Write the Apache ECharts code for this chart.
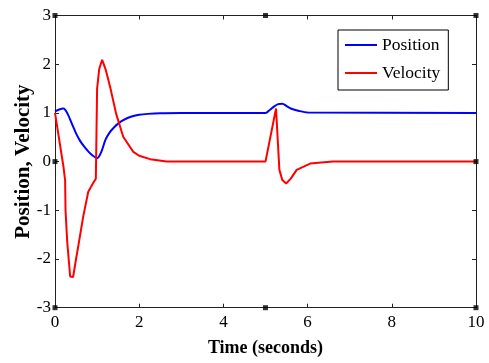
<!DOCTYPE html>
<html>
<head>
<meta charset="utf-8">
<script src="https://cdn.jsdelivr.net/npm/echarts@6/dist/echarts.min.js"></script>
<style>
  html, body { margin: 0; padding: 0; background: #fff; }
  #chart { width: 489px; height: 363px; }
</style>
</head>
<body>
<div id="chart"></div>
<script>
// position response
const posTime = [0, 0.1, 0.2, 0.3, 0.4, 0.5, 0.6, 0.7, 0.8, 0.9, 1.0, 1.1, 1.2, 1.3, 1.4, 1.5, 1.6, 1.8, 2.0, 2.2, 2.5, 3.0, 5.0, 5.1, 5.2, 5.3, 5.4, 5.5, 5.6, 5.8, 6.0, 10]
const posValue = [1.03, 1.07, 1.09, 0.98, 0.78, 0.58, 0.42, 0.3, 0.2, 0.12, 0.07, 0.2, 0.45, 0.6, 0.7, 0.78, 0.84, 0.92, 0.96, 0.98, 0.995, 1.0, 1.0, 1.06, 1.13, 1.18, 1.19, 1.14, 1.09, 1.04, 1.01, 1.0]

// velocity response
const velTime = [0, 0.1, 0.2, 0.24, 0.25, 0.29, 0.36, 0.43, 0.5, 0.55, 0.67, 0.79, 0.9, 0.97, 1.0, 1.05, 1.12, 1.2, 1.31, 1.45, 1.62, 1.86, 2.0, 2.26, 2.65, 3.0, 5.0, 5.25, 5.33, 5.4, 5.49, 5.6, 5.74, 6.06, 6.6, 10]
const velValue = [1.0, 0.45, -0.1, -0.38, -1.0, -1.64, -2.36, -2.37, -2.0, -1.75, -1.13, -0.62, -0.45, -0.35, 1.5, 1.9, 2.09, 1.9, 1.53, 0.99, 0.51, 0.2, 0.12, 0.05, 0.0, 0.0, 0.0, 1.09, -0.17, -0.38, -0.45, -0.35, -0.17, -0.04, 0.0, 0.0]

// little black handles on the figure frame
const handleX = [0, 5, 10, 0, 10, 0, 5, 10]
const handleY = [3, 3, 3, 0, 0, -3, -3, -3]

const font = '"Liberation Serif", "Times New Roman", serif'
const axisColor = '#222'

function pairs(xs, ys) {
  return xs.map((x, i) => [x, ys[i]])
}

const chart = echarts.init(document.getElementById('chart'))

const xBase = {
  type: 'value', min: 0, max: 10, interval: 2,
  axisLine: { show: true, onZero: false, lineStyle: { color: axisColor, width: 1 } },
  axisTick: { show: true, inside: true, length: 4, lineStyle: { color: axisColor } },
  splitLine: { show: false }
}
const yBase = {
  type: 'value', min: -3, max: 3, interval: 1,
  axisLine: { show: true, onZero: false, lineStyle: { color: axisColor, width: 1 } },
  axisTick: { show: true, inside: true, length: 4, lineStyle: { color: axisColor } },
  splitLine: { show: false }
}

chart.setOption({
  backgroundColor: '#fff',
  animation: false,
  grid: { left: 55, right: 13, top: 15.5, bottom: 55.3, outerBoundsMode: 'none' },
  legend: {
    data: [
      { name: 'Position', icon: 'rect' },
      { name: 'Velocity', icon: 'rect' }
    ],
    orient: 'vertical',
    left: 338, top: 30,
    itemWidth: 32, itemHeight: 2, itemGap: 10,
    padding: [6, 8, 8, 7],
    borderColor: '#000', borderWidth: 1,
    textStyle: { fontFamily: font, fontSize: 17.5, color: '#000' }
  },
  xAxis: [
    Object.assign({}, xBase, {
      position: 'bottom',
      name: 'Time (seconds)', nameLocation: 'middle', nameGap: 32,
      nameMoveOverlap: false,
      nameTextStyle: { fontFamily: font, fontSize: 18, fontWeight: 'bold', color: '#000' },
      axisLabel: { fontFamily: font, fontSize: 17, color: '#000', margin: 6 }
    }),
    Object.assign({}, xBase, { position: 'top', axisLabel: { show: false } })
  ],
  yAxis: [
    Object.assign({}, yBase, {
      position: 'left',
      name: 'Position, Velocity', nameLocation: 'middle', nameGap: 21,
      nameMoveOverlap: false,
      nameTextStyle: { fontFamily: font, fontSize: 21, fontWeight: 'bold', color: '#000' },
      axisLabel: { fontFamily: font, fontSize: 17, color: '#000', margin: 4 }
    }),
    Object.assign({}, yBase, { position: 'right', axisLabel: { show: false } })
  ],
  series: [
    {
      name: 'Position', type: 'line', smooth: 0.3, symbol: 'none',
      data: pairs(posTime, posValue),
      lineStyle: { color: '#0000ff', width: 2 },
      itemStyle: { color: '#0000ff' }
    },
    {
      name: 'Velocity', type: 'line', smooth: false, symbol: 'none',
      data: pairs(velTime, velValue),
      lineStyle: { color: '#ff0000', width: 2 },
      itemStyle: { color: '#ff0000' }
    },
    {
      name: 'handles', type: 'scatter', symbol: 'rect', symbolSize: 5,
      silent: true, z: 5,
      data: pairs(handleX, handleY),
      itemStyle: { color: '#000' }
    }
  ]
})
</script>
</body>
</html>
